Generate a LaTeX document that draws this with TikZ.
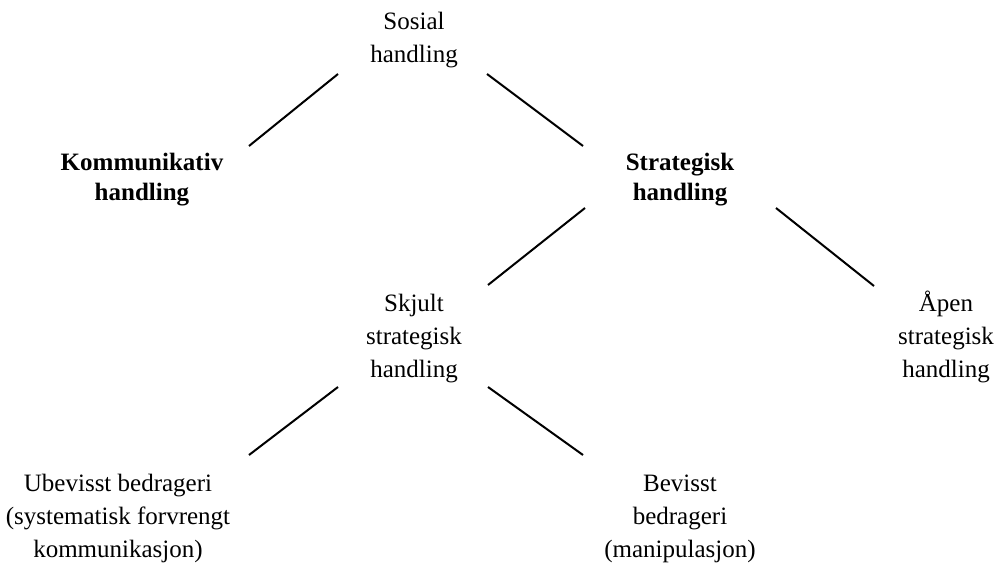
\documentclass[tikz,border=0pt]{standalone}
\usepackage{fontspec}
\setmainfont{Liberation Serif}
\begin{document}
\begin{tikzpicture}[x=1pt,y=-1pt,
  lbl/.style={align=center,anchor=base,inner sep=0pt,font=\fontsize{25}{33}\selectfont},
  blbl/.style={align=center,anchor=base,inner sep=0pt,font=\fontsize{25}{30}\selectfont\bfseries},
  conn/.style={draw=black,line width=2pt}]
\path[use as bounding box] (0,0) rectangle (995,567);
% base anchor = baseline of the last line
\node[lbl]  (sosial) at (414,63)  {Sosial\\handling};
\node[blbl] (komm)   at (142,200) {Kommunikativ\\handling};
\node[blbl] (strat)  at (680,200) {Strategisk\\handling};
\node[lbl]  (skjult) at (414,377) {Skjult\\strategisk\\handling};
\node[lbl]  (apen)   at (946,377) {Åpen\\strategisk\\handling};
\node[lbl]  (ubev)   at (118,557) {Ubevisst bedrageri\\(systematisk forvrengt\\kommunikasjon)};
\node[lbl]  (bev)    at (680,557) {Bevisst\\bedrageri\\(manipulasjon)};
% connector end points
\coordinate (sosL) at (338,74);
\coordinate (komU) at (249,146);
\coordinate (sosR) at (487,74);
\coordinate (strUL) at (583,146);
\coordinate (strL) at (585,208);
\coordinate (skjU) at (488,285);
\coordinate (strR) at (776,208);
\coordinate (apeU) at (874,286);
\coordinate (skjL) at (338,387);
\coordinate (ubeU) at (249,455);
\coordinate (skjR) at (488,387);
\coordinate (bevU) at (583,455);
\draw[conn] (sosL) -- (komU);
\draw[conn] (sosR) -- (strUL);
\draw[conn] (strL) -- (skjU);
\draw[conn] (strR) -- (apeU);
\draw[conn] (skjL) -- (ubeU);
\draw[conn] (skjR) -- (bevU);
\end{tikzpicture}
\end{document}
